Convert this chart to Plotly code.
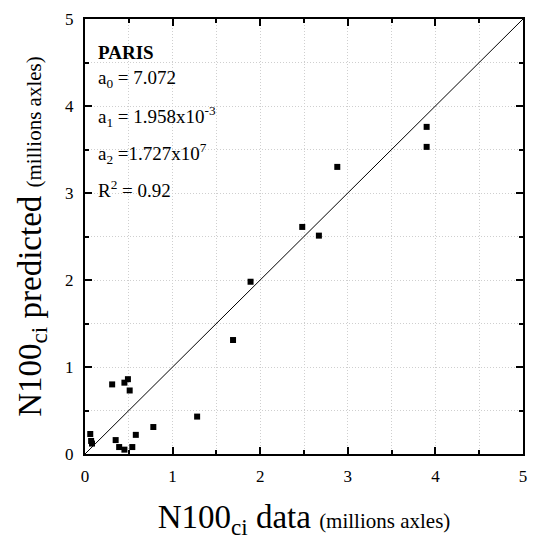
import plotly.graph_objects as go

# Data (millions axles)
data_x = [3.90, 3.90, 2.88, 2.48, 2.67, 1.89, 1.69, 1.28,
          0.31, 0.45, 0.49, 0.51, 0.78, 0.58, 0.35, 0.39, 0.45, 0.54,
          0.06, 0.07, 0.08]
pred_y = [3.76, 3.53, 3.30, 2.61, 2.51, 1.98, 1.31, 0.43,
          0.80, 0.82, 0.86, 0.73, 0.31, 0.22, 0.16, 0.08, 0.05, 0.08,
          0.23, 0.15, 0.12]
line_x = [0, 5]
line_y = [0, 5]
tick_vals = [0, 1, 2, 3, 4, 5]
tick_text = ["0", "1", "2", "3", "4", "5"]

FONT = "Liberation Serif"

fig = go.Figure()
fig.add_trace(go.Scatter(x=line_x, y=line_y, mode="lines",
                         line=dict(color="black", width=1), showlegend=False,
                         hoverinfo="skip"))
fig.add_trace(go.Scatter(x=data_x, y=pred_y, mode="markers",
                         marker=dict(symbol="square", size=6, color="black"),
                         showlegend=False))

axis_common = dict(
    range=[0, 5], tickvals=tick_vals, ticktext=tick_text,
    ticks="inside", ticklen=7, tickwidth=1.5, tickcolor="black",
    showline=True, linecolor="black", linewidth=2, mirror="allticks",
    showgrid=True, gridcolor="#cfcfcf", griddash="1px,2px", gridwidth=1,
    zeroline=False, automargin=False,
    minor=dict(dtick=0.5, ticks="inside", ticklen=4, tickcolor="black",
               showgrid=True, gridcolor="#cfcfcf", griddash="1px,2px"),
    tickfont=dict(family=FONT, size=17, color="black"),
)

fig.update_xaxes(**axis_common,
                 title=dict(text="N100<sub>ci</sub> data <span style='font-size:21px'>(millions axles)</span>",
                            font=dict(family=FONT, size=33, color="black"),
                            standoff=22),
                 ticklabelstandoff=6)
fig.update_yaxes(**axis_common,
                 title=dict(text="N100<sub>ci</sub> predicted <span style='font-size:21px'>(millions axles)</span>",
                            font=dict(family=FONT, size=33, color="black"),
                            standoff=14),
                 ticklabelstandoff=6)

# white box behind the fit text
fig.add_shape(type="rect", xref="paper", yref="paper",
              x0=0.03, x1=0.375, y0=(454 - 205) / 435, y1=(454 - 33) / 435,
              fillcolor="white", line=dict(width=0), layer="between")

labels = [
    ("<b>PARIS</b>", 52),
    ("a<sub>0</sub> = 7.072", 79),
    ("a<sub>1</sub> = 1.958x10<sup>-3</sup>", 116),
    ("a<sub>2</sub> =1.727x10<sup>7</sup>", 153),
    ("R<sup>2</sup> = 0.92", 189),
]
for txt, ypx in labels:
    fig.add_annotation(text=txt, xref="paper", yref="paper",
                       x=(96 - 85) / 438, y=(454 - ypx) / 435,
                       xanchor="left", yanchor="middle", showarrow=False,
                       font=dict(family=FONT, size=19, color="black"))

fig.update_layout(width=538, height=540,
                  margin=dict(l=85, r=15, t=19, b=86),
                  plot_bgcolor="white", paper_bgcolor="white")

fig.write_html("out.html")
